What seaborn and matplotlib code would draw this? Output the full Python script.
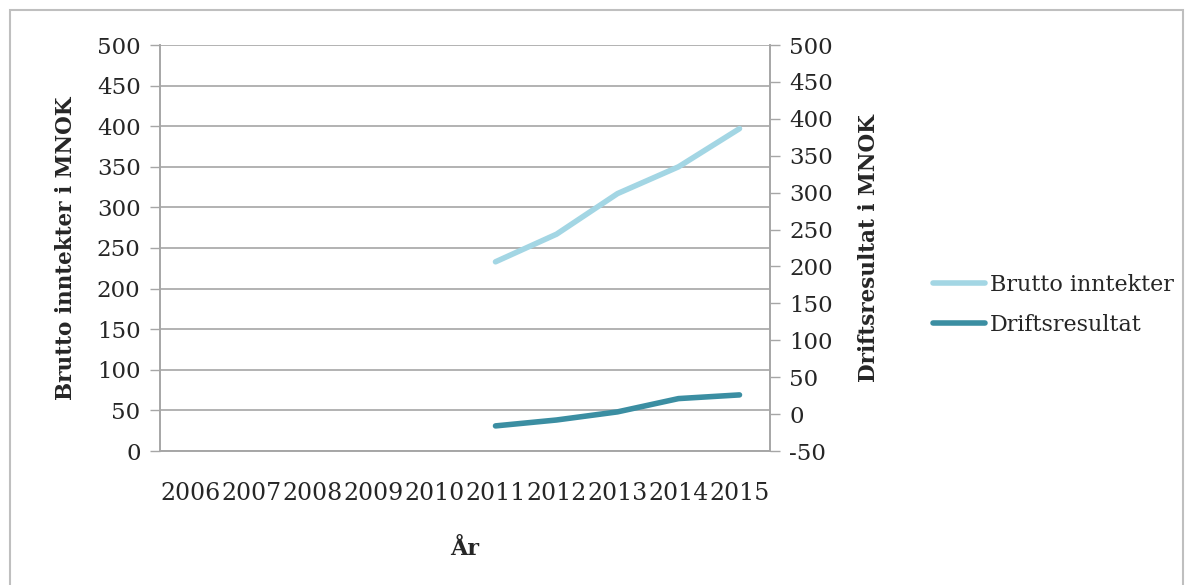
import numpy as np
import pandas as pd
import matplotlib
matplotlib.use("Agg")
import matplotlib.pyplot as plt
import matplotlib.patches as patches
import seaborn as sns

years = ["2006", "2007", "2008", "2009", "2010", "2011", "2012", "2013", "2014", "2015"]
brutto = [np.nan, np.nan, np.nan, np.nan, np.nan, 233, 267, 317, 350, 397]
drift = [np.nan, np.nan, np.nan, np.nan, np.nan, -16, -8, 3, 21, 26]

sns.set_style("white")
plt.rcParams['font.family'] = ['DejaVu Serif']
plt.rcParams['axes.unicode_minus'] = False

df = pd.DataFrame({"pos": np.arange(len(years)), "brutto": brutto, "drift": drift})

fig = plt.figure(figsize=(11.87, 5.85), dpi=100)
ax = fig.add_axes([160 / 1187, 1 - 451 / 585, 610 / 1187, 406 / 585])
ax2 = ax.twinx()

grid_col = "#a6a6a6"
light = "#a3d6e4"
dark = "#3b8ea2"

sns.lineplot(data=df, x="pos", y="brutto", ax=ax, color=light, lw=4, label="Brutto inntekter", legend=False)
sns.lineplot(data=df, x="pos", y="drift", ax=ax2, color=dark, lw=4, label="Driftsresultat", legend=False)

ax.set_xlim(-0.5, len(years) - 0.5)
ax.set_ylim(0, 500)
ax2.set_ylim(-50, 500)
ax.set_yticks(np.arange(0, 501, 50))
ax2.set_yticks(np.arange(-50, 501, 50))
ax.set_xticks(np.arange(-0.5, len(years), 1))
ax.set_xticklabels([])
ax.set_xticks(np.arange(len(years)), minor=True)
ax.set_xticklabels(years, minor=True)
ax.tick_params(axis="x", which="minor", length=0, pad=22, labelsize=17)
ax.tick_params(axis="x", which="major", length=7, width=1, color=grid_col, direction="out")
ax.tick_params(axis="y", length=7, width=1, color=grid_col, labelsize=16.5, pad=7, direction="out")
ax2.tick_params(axis="y", length=7, width=1, color=grid_col, labelsize=16.5, pad=7, direction="out")

ax.yaxis.grid(True, color=grid_col, lw=1.2)
ax.set_axisbelow(True)
for a in (ax, ax2):
    for s in a.spines.values():
        s.set_color(grid_col)
        s.set_linewidth(1.2)
    a.spines["top"].set_visible(False)

ax.set_xlabel("År", fontsize=16, fontweight="bold", labelpad=24)
ax.set_ylabel("Brutto inntekter i MNOK", fontsize=15.5, fontweight="bold", labelpad=14)
ax2.set_ylabel("Driftsresultat i MNOK", fontsize=15.5, fontweight="bold", labelpad=18)

h1, l1 = ax.get_legend_handles_labels()
h2, l2 = ax2.get_legend_handles_labels()
fig.legend(h1 + h2, l1 + l2, loc="center left", bbox_to_anchor=(913 / 1187, 1 - 305 / 585),
           frameon=False, fontsize=16, handlelength=2.35, handletextpad=0.2, labelspacing=0.8)

fig.patches.append(patches.Rectangle((10 / 1187, -0.05), 1173 / 1187, 1.05 - 10 / 585,
                                     transform=fig.transFigure, fill=False,
                                     edgecolor="#bfbfbf", lw=1.5))

fig.savefig("out.png", dpi=100)
